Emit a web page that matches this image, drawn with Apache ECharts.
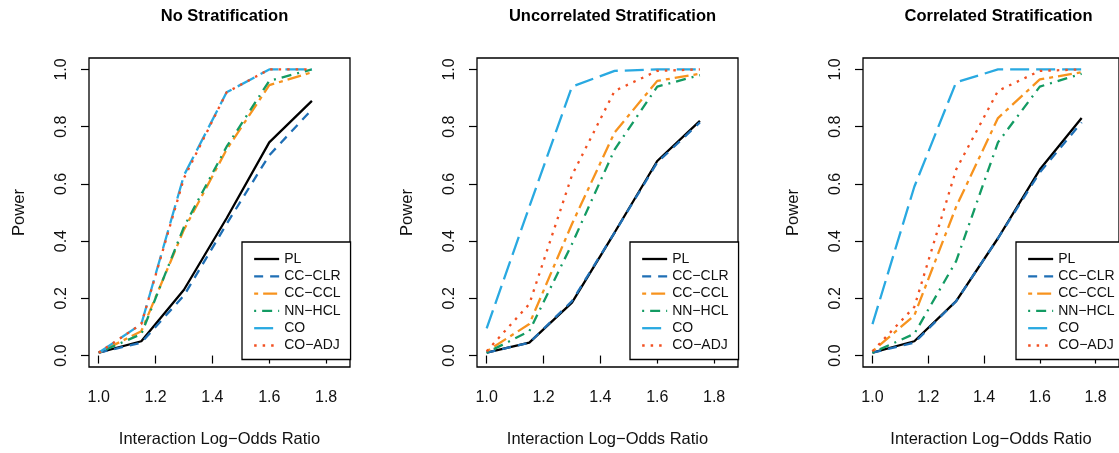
<!DOCTYPE html>
<html>
<head>
<meta charset="utf-8">
<script src="https://cdn.jsdelivr.net/npm/echarts@6/dist/echarts.min.js"></script>
<style>
  html, body { margin: 0; padding: 0; background: #fff; }
  #main { width: 1119px; height: 453px; }
</style>
</head>
<body>
<div id="main"></div>
<script>
// interaction log-odds ratio (x) and power values
var oddsRatio = [1.0, 1.15, 1.3, 1.45, 1.6, 1.75];
var xTicks = [1.0, 1.2, 1.4, 1.6, 1.8];
var yTicks = [0, 0.2, 0.4, 0.6, 0.8, 1.0];
var methods = ['PL', 'CC−CLR', 'CC−CCL', 'NN−HCL', 'CO', 'CO−ADJ'];
var panelTitles = ['No Stratification', 'Uncorrelated Stratification', 'Correlated Stratification'];

// No Stratification
var noStratPL  = [0.01, 0.05, 0.23, 0.48, 0.745, 0.89];
var noStratCLR = [0.01, 0.045, 0.21, 0.46, 0.70, 0.86];
var noStratCCL = [0.01, 0.085, 0.44, 0.72, 0.945, 0.99];
var noStratHCL = [0.01, 0.075, 0.45, 0.73, 0.96, 1.0];
var noStratCO  = [0.01, 0.11, 0.63, 0.92, 1.0, 1.0];
var noStratADJ = [0.01, 0.11, 0.62, 0.92, 1.0, 1.0];

// Uncorrelated Stratification
var uncorPL  = [0.01, 0.045, 0.185, 0.43, 0.68, 0.82];
var uncorCLR = [0.01, 0.045, 0.19, 0.43, 0.675, 0.815];
var uncorCCL = [0.015, 0.11, 0.46, 0.78, 0.96, 0.985];
var uncorHCL = [0.01, 0.085, 0.39, 0.72, 0.94, 0.98];
var uncorCO  = [0.095, 0.52, 0.94, 0.995, 1.0, 1.0];
var uncorADJ = [0.015, 0.18, 0.63, 0.925, 0.995, 1.0];

// Correlated Stratification
var corPL  = [0.01, 0.05, 0.19, 0.41, 0.65, 0.83];
var corCLR = [0.01, 0.045, 0.19, 0.41, 0.64, 0.815];
var corCCL = [0.015, 0.14, 0.52, 0.83, 0.965, 0.99];
var corHCL = [0.01, 0.076, 0.33, 0.745, 0.94, 0.985];
var corCO  = [0.11, 0.59, 0.955, 1.0, 1.0, 1.0];
var corADJ = [0.015, 0.17, 0.65, 0.925, 0.995, 1.0];

var panels = [
  [noStratPL, noStratCLR, noStratCCL, noStratHCL, noStratCO, noStratADJ],
  [uncorPL, uncorCLR, uncorCCL, uncorHCL, uncorCO, uncorADJ],
  [corPL, corCLR, corCCL, corHCL, corCO, corADJ]
];

// line look per method (R-ish lty)
var styles = [
  { color: '#000000', type: 'solid' },
  { color: '#1f6fb5', type: [9, 7] },
  { color: '#f7931e', type: [4, 5, 14, 5] },
  { color: '#139b63', type: [2, 6, 10, 6] },
  { color: '#29a9e1', type: [19, 7] },
  { color: '#f25022', type: [2.5, 6] }
];

var font = 'Liberation Sans, Arial, sans-serif';
var gridLefts = [89, 477, 863];
var legendLefts = [242, 630, 1016];

var grids = [], xAxes = [], yAxes = [], series = [], titles = [], legends = [];

var legendItems = methods.map(function (name, m) {
  return {
    name: name,
    itemStyle: { color: 'transparent', borderColor: 'transparent', borderWidth: 0 },
    lineStyle: { color: styles[m].color, type: styles[m].type, width: 2.3 }
  };
});

gridLefts.forEach(function (left, p) {
  grids.push({
    left: left, top: 58, width: 261, height: 310,
    show: true, borderColor: '#000', borderWidth: 1.3, backgroundColor: 'transparent'
  });
  xAxes.push({
    type: 'value', gridIndex: p, min: 0.966, max: 1.884,
    name: 'Interaction Log−Odds Ratio', nameLocation: 'middle', nameGap: 64,
    nameTextStyle: { fontFamily: font, fontSize: 16.5, color: '#111' },
    axisLine: { show: false },
    splitLine: { show: false },
    axisTick: { show: true, length: 8, customValues: xTicks, lineStyle: { color: '#000', width: 1.2 } },
    axisLabel: {
      customValues: xTicks, margin: 23, fontFamily: font, fontSize: 16, color: '#111',
      formatter: function (v) { return v.toFixed(1); }
    }
  });
  yAxes.push({
    type: 'value', gridIndex: p, min: -0.04, max: 1.04,
    name: 'Power', nameLocation: 'middle', nameGap: 61, nameRotate: 90,
    nameTextStyle: { fontFamily: font, fontSize: 16.5, color: '#111' },
    axisLine: { show: false },
    splitLine: { show: false },
    axisTick: { show: true, length: 8, customValues: yTicks, lineStyle: { color: '#000', width: 1.2 } },
    axisLabel: {
      customValues: yTicks, rotate: 90, margin: 19, fontFamily: font, fontSize: 16, color: '#111',
      formatter: function (v) { return v.toFixed(1); }
    }
  });
  titles.push({
    text: panelTitles[p], left: left + 130.5, top: 3, textAlign: 'center',
    textStyle: { fontFamily: font, fontSize: 16.5, fontWeight: 'bold', color: '#000' }
  });
  legends.push({
    data: legendItems, orient: 'vertical', left: legendLefts[p], top: 242,
    itemWidth: 25, itemHeight: 12, itemGap: 3.3,
    padding: [10, 10, 7, 11],
    borderColor: '#000', borderWidth: 1.3, backgroundColor: '#fff',
    selectedMode: false,
    itemStyle: { color: 'transparent', borderColor: 'transparent', borderWidth: 0 },
    textStyle: { fontFamily: font, fontSize: 14, color: '#111' }
  });
  panels[p].forEach(function (vals, m) {
    series.push({
      type: 'line', name: methods[m], xAxisIndex: p, yAxisIndex: p,
      data: oddsRatio.map(function (x, i) { return [x, vals[i]]; }),
      symbol: 'none', smooth: false, silent: true,
      lineStyle: { color: styles[m].color, type: styles[m].type, width: 2.3 },
      itemStyle: { color: styles[m].color }
    });
  });
});

var chart = echarts.init(document.getElementById('main'));
chart.setOption({
  backgroundColor: '#fff',
  animation: false,
  title: titles,
  legend: legends,
  grid: grids,
  xAxis: xAxes,
  yAxis: yAxes,
  series: series
});
</script>
</body>
</html>
